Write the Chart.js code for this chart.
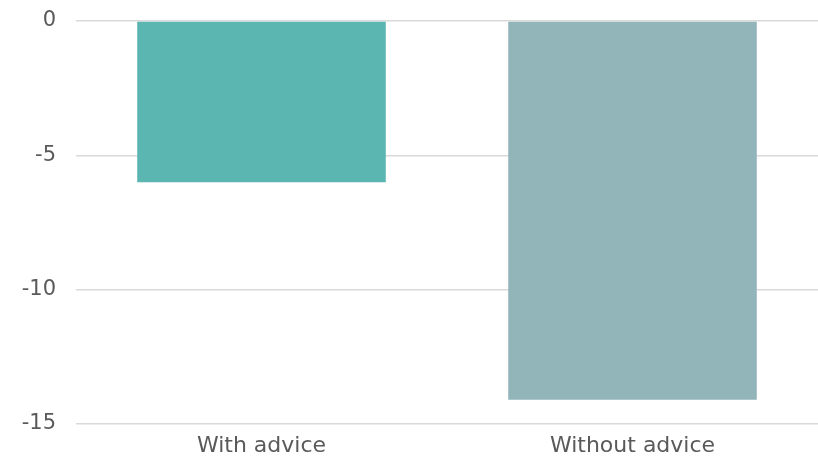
<!DOCTYPE html>
<html>
<head>
<meta charset="utf-8">
<script src="https://cdn.jsdelivr.net/npm/chart.js@4/dist/chart.umd.min.js"></script>
<style>
  html, body { margin: 0; padding: 0; background: #fff; }
  #wrap { width: 818px; height: 460px; }
</style>
</head>
<body>
<div id="wrap"><canvas id="adviceChart"></canvas></div>
<script>
const categories = ["With advice", "Without advice"];
const values = [-6.0, -14.1];
const barColors = ["#5bb5b0", "#92b5ba"];
const yTicks = [0, -5, -10, -15];

window.onload = function() {
  const ctx = document.getElementById("adviceChart").getContext("2d");
  Chart.defaults.font.family = "'DejaVu Sans', sans-serif";
  Chart.defaults.color = "#595959";

  new Chart(ctx, {
    type: "bar",
    data: {
      labels: categories,
      datasets: [
        {
          data: values,
          backgroundColor: barColors,
          borderWidth: 0,
          barPercentage: 0.67,
          categoryPercentage: 1
        }
      ]
    },
    options: {
      responsive: true,
      maintainAspectRatio: false,
      animation: false,
      layout: { padding: { top: 21, right: 0, left: 0, bottom: 0 } },
      plugins: {
        legend: { display: false },
        tooltip: { enabled: false }
      },
      scales: {
        x: {
          grid: { display: false },
          border: { display: false },
          ticks: { font: { size: 22 }, padding: 1, color: "#5a5a5a" },
          afterFit: function(scale) { scale.height = 36; }
        },
        y: {
          min: Math.min(...yTicks),
          max: Math.max(...yTicks),
          grid: { color: "#d9d9d9", lineWidth: 1.5, drawTicks: false },
          border: { display: false },
          ticks: { stepSize: 5, font: { size: 21 }, padding: 20, color: "#5a5a5a" },
          afterFit: function(scale) {
            scale.width = 76;
            scale.paddingTop = 0;
            scale.paddingBottom = 0;
          }
        }
      }
    }
  });
};
</script>
</body>
</html>
